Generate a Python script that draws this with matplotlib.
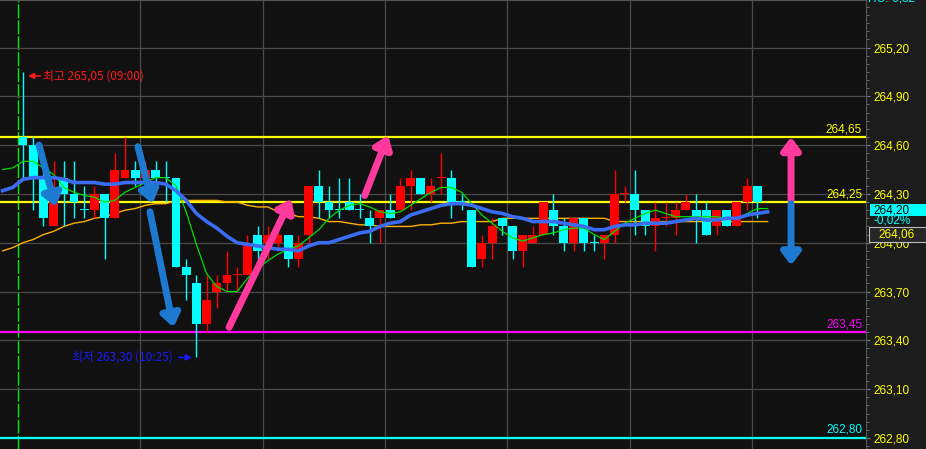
import numpy as np
import matplotlib
matplotlib.use('Agg')
import matplotlib.pyplot as plt
import matplotlib.transforms as mtransforms
from matplotlib.patches import Rectangle

# 5-min candles from 09:00 (index 0)
opens = [264.65, 264.60, 264.40, 264.10, 264.40, 264.30, 264.20, 264.20, 264.30, 264.15,
         264.40, 264.45, 264.40, 264.45, 264.40, 264.40, 263.85, 263.75, 263.50, 263.70,
         263.75, 263.80, 263.80, 264.05, 264.00, 264.00, 264.05, 263.90, 264.05, 264.35,
         264.25, 264.20, 264.25, 264.20, 264.15, 264.15, 264.20, 264.20, 264.35, 264.40,
         264.30, 264.40, 264.40, 264.25, 264.20, 263.90, 264.00, 264.15, 264.10, 263.95,
         264.00, 264.05, 264.20, 264.10, 264.00, 264.15, 264.00, 264.00, 264.05, 264.30,
         264.30, 264.20, 264.10, 264.15, 264.15, 264.20, 264.20, 264.20, 264.10, 264.20,
         264.10, 264.25, 264.35]
highs = [265.05, 264.65, 264.45, 264.50, 264.50, 264.50, 264.35, 264.35, 264.30, 264.55,
         264.65, 264.50, 264.50, 264.50, 264.50, 264.40, 263.90, 263.80, 263.80, 263.80,
         263.95, 263.85, 264.05, 264.10, 264.10, 264.10, 264.05, 264.05, 264.35, 264.45,
         264.35, 264.40, 264.40, 264.30, 264.20, 264.20, 264.30, 264.40, 264.45, 264.40,
         264.40, 264.55, 264.45, 264.30, 264.20, 264.05, 264.15, 264.15, 264.10, 264.05,
         264.10, 264.25, 264.30, 264.15, 264.15, 264.15, 264.05, 264.05, 264.45, 264.35,
         264.45, 264.20, 264.25, 264.25, 264.25, 264.30, 264.30, 264.25, 264.20, 264.20,
         264.25, 264.40, 264.35]
lows = [264.40, 264.20, 264.10, 264.10, 264.10, 264.15, 264.15, 264.15, 263.90, 264.15,
        264.40, 264.35, 264.40, 264.35, 264.25, 263.85, 263.65, 263.30, 263.45, 263.60,
        263.70, 263.70, 263.80, 263.90, 263.90, 263.95, 263.85, 263.85, 264.00, 264.15,
        264.15, 264.15, 264.20, 264.15, 264.00, 264.00, 264.15, 264.20, 264.20, 264.30,
        264.25, 264.30, 264.15, 264.20, 263.85, 263.85, 263.90, 264.05, 263.90, 263.85,
        264.00, 264.05, 264.05, 263.95, 263.95, 263.95, 263.95, 263.90, 264.00, 264.25,
        264.05, 264.05, 263.95, 264.10, 264.05, 264.20, 264.00, 264.05, 264.05, 264.10,
        264.10, 264.20, 264.15]
closes = [264.60, 264.40, 264.15, 264.30, 264.30, 264.25, 264.20, 264.30, 264.15, 264.45,
          264.45, 264.40, 264.45, 264.40, 264.40, 263.85, 263.80, 263.50, 263.65, 263.75,
          263.80, 263.80, 264.00, 263.95, 264.05, 264.05, 263.90, 264.00, 264.35, 264.25,
          264.20, 264.20, 264.20, 264.20, 264.10, 264.20, 264.15, 264.35, 264.40, 264.30,
          264.35, 264.40, 264.25, 264.25, 263.85, 264.00, 264.10, 264.10, 263.95, 264.05,
          264.05, 264.25, 264.10, 264.00, 264.15, 264.00, 264.00, 264.05, 264.30, 264.30,
          264.20, 264.10, 264.15, 264.15, 264.20, 264.25, 264.15, 264.05, 264.20, 264.10,
          264.25, 264.35, 264.25]
doji_red = [21, 41, 59, 63]

# moving averages, index -2 .. 73
ma_start = -2
ma_short = [264.45, 264.46, 264.50, 264.50, 264.46, 264.42, 264.34, 264.31, 264.29, 264.28,
            264.25, 264.26, 264.31, 264.34, 264.37, 264.40, 264.40, 264.35, 264.19, 263.99,
            263.81, 263.73, 263.70, 263.70, 263.78, 263.84, 263.89, 263.93, 263.96, 263.98,
            264.03, 264.08, 264.15, 264.20, 264.23, 264.24, 264.22, 264.19, 264.18, 264.19,
            264.23, 264.27, 264.31, 264.34, 264.34, 264.31, 264.24, 264.17, 264.12, 264.07,
            264.03, 264.01, 264.03, 264.05, 264.06, 264.08, 264.09, 264.09, 264.05, 264.02,
            264.07, 264.12, 264.15, 264.18, 264.20, 264.18, 264.16, 264.16, 264.16, 264.16,
            264.16, 264.15, 264.15, 264.18, 264.21, 264.21]
ma_mid = [264.32, 264.34, 264.39, 264.40, 264.40, 264.40, 264.39, 264.37, 264.37, 264.37,
          264.36, 264.36, 264.37, 264.37, 264.37, 264.37, 264.36, 264.32, 264.26, 264.18,
          264.13, 264.09, 264.04, 264.00, 263.99, 263.98, 263.97, 263.96, 263.96, 263.95,
          263.98, 264.00, 264.00, 264.02, 264.04, 264.06, 264.07, 264.10, 264.12, 264.13,
          264.17, 264.19, 264.21, 264.23, 264.24, 264.24, 264.23, 264.21, 264.19, 264.18,
          264.16, 264.15, 264.13, 264.13, 264.13, 264.12, 264.11, 264.10, 264.08, 264.08,
          264.10, 264.11, 264.11, 264.12, 264.12, 264.12, 264.13, 264.14, 264.15, 264.14,
          264.14, 264.15, 264.15, 264.17, 264.18, 264.19]
ma_long = [263.95, 263.97, 264.00, 264.02, 264.05, 264.07, 264.10, 264.12, 264.13, 264.15,
           264.16, 264.18, 264.20, 264.21, 264.23, 264.24, 264.24, 264.26, 264.26, 264.26,
           264.26, 264.26, 264.25, 264.25, 264.23, 264.22, 264.22, 264.19, 264.18, 264.16,
           264.16, 264.15, 264.13, 264.13, 264.12, 264.11, 264.11, 264.10, 264.10, 264.10,
           264.10, 264.11, 264.11, 264.12, 264.12, 264.13, 264.13, 264.13, 264.13, 264.15,
           264.15, 264.15, 264.15, 264.15, 264.15, 264.15, 264.15, 264.15, 264.15, 264.15,
           264.13, 264.13, 264.13, 264.13, 264.13, 264.13, 264.13, 264.13, 264.13, 264.13,
           264.13, 264.13, 264.13, 264.13, 264.13, 264.13]

# horizontal level lines
levels = [264.65, 264.25, 263.45, 262.80]
level_colors = ['#ffff00', '#ffff00', '#ff00ff', '#00ffff']

yticks = [262.80, 263.10, 263.40, 263.70, 264.00, 264.30, 264.60, 264.90, 265.20]
last_price = 264.20
change_pct = -0.02
ref_price = 264.06
top_text = 'HC:-0,32'

RED = '#ff0000'
CYAN = '#00ffff'
YEL = '#ffff00'
NUM_FONT = ['Liberation Sans', 'DejaVu Sans']
KR_FONT = ['Noto Sans CJK KR', 'DejaVu Sans']


def fmt(v):
    return f'{v:.2f}'.replace('.', ',')


W, H = 926, 449
fig = plt.figure(figsize=(W / 100, H / 100), dpi=100, facecolor='#1c1c1c')
ax = fig.add_axes([0, 0, 866 / W, 1])
ax.set_facecolor('#111111')
ax.set_xlim(-2.255, 82.65)
ax.set_ylim(262.732, 265.492)

# grid
ax.set_yticks(yticks)
ax.set_yticks(np.arange(262.75, 265.5, 0.05), minor=True)
ax.set_yticklabels([fmt(v) for v in yticks], fontfamily=NUM_FONT, fontsize=8.5)
ax.yaxis.tick_right()
ax.tick_params(axis='y', which='major', length=3, color='#777777', labelcolor=YEL, pad=2.5)
ax.tick_params(axis='y', which='minor', length=2.5, color='#777777')
ax.set_xticks([])
ax.grid(axis='y', color='#4a4a4a', lw=0.9, zorder=0)
for gx in np.arange(11.5, 80, 12):
    ax.axvline(gx, color='#4a4a4a', lw=0.9, zorder=0)
for side in ['left', 'bottom']:
    ax.spines[side].set_visible(False)
ax.spines['right'].set_color('#555555')
ax.spines['top'].set_color('#555555')

# day separator
ax.axvline(-0.5, color='#00ee00', lw=1, ls=(0, (10, 1.5)), zorder=1)

# level lines + labels
for lv, lc in zip(levels, level_colors):
    ax.axhline(lv, color=lc, lw=1.6, zorder=2)
    ax.text(0.9955, lv + 0.012, fmt(lv), transform=mtransforms.blended_transform_factory(ax.transAxes, ax.transData),
            ha='right', va='bottom', color=lc, fontsize=8.5, fontfamily=NUM_FONT, zorder=6)

# moving averages
xm = np.arange(ma_start, ma_start + len(ma_mid))
ax.plot(xm, ma_long, color='#ffb000', lw=1, zorder=3)
ax.plot(xm, ma_short, color='#00dd00', lw=0.9, zorder=5)
ax.plot(xm, ma_mid, color='#3a6cf4', lw=2.6, zorder=5)

# candles
o = np.array(opens)
c = np.array(closes)
hi = np.array(highs)
lo = np.array(lows)
x = np.arange(len(o))
up = (c > o) | np.isin(x, doji_red)
col = np.where(up, RED, CYAN)
ax.vlines(x, lo, hi, colors=col, lw=1, zorder=4)
body = np.abs(c - o)
ax.bar(x, np.where(body == 0, 0.006, body), bottom=np.minimum(o, c), width=0.88,
       color=col, lw=0, zorder=4)

# high / low labels
ih = int(np.argmax(hi))
ax.annotate(f'최고 {fmt(hi[ih])} (09:00)', xy=(ih + 0.5, hi[ih] - 0.025), xytext=(ih + 2.0, hi[ih] - 0.025),
            color='#ff1a1a', fontsize=8.5, fontfamily=KR_FONT, ha='left', va='center',
            arrowprops=dict(arrowstyle='-|>', color='#ff1a1a', lw=1, mutation_scale=9, shrinkA=0, shrinkB=0))
il = int(np.argmin(lo))
ax.annotate(f'최저 {fmt(lo[il])} (10:25)', xy=(il - 0.45, lo[il] - 0.005), xytext=(il - 2.3, lo[il] - 0.005),
            color='#1a1aff', fontsize=8.5, fontfamily=KR_FONT, ha='right', va='center',
            arrowprops=dict(arrowstyle='-|>', color='#1a1aff', lw=1, mutation_scale=9, shrinkA=2, shrinkB=0))

# drawn trend arrows
PINK = '#ff3a9c'
BLUE = '#1e7ad0'
arrows = [
    ((1.57, 264.60), (3.2, 264.22), BLUE),
    ((11.27, 264.59), (12.7, 264.24), BLUE),
    ((12.45, 264.19), (14.75, 263.48), BLUE),
    ((20.2, 263.48), (26.3, 264.27), PINK),
    ((33.5, 264.29), (35.8, 264.66), PINK),
    ((75.3, 264.26), (75.3, 264.65), PINK),
    ((75.3, 264.24), (75.3, 263.86), BLUE),
]
for (x0, y0), (x1, y1), ac in arrows:
    ax.annotate('', xy=(x1, y1), xytext=(x0, y0),
                arrowprops=dict(arrowstyle='-|>,head_length=0.6,head_width=0.45', color=ac, lw=5,
                                mutation_scale=12, shrinkA=0, shrinkB=0, capstyle='round'),
                zorder=7)

# right-side price tags
bt = mtransforms.blended_transform_factory(fig.transFigure, ax.transData)
fig.add_artist(Rectangle((870 / W, last_price - 0.037), 56 / W, 0.074, transform=bt,
                         facecolor=CYAN, edgecolor='none', zorder=5))
fig.text(873 / W, last_price, fmt(last_price), transform=bt, color='#000000', fontsize=8.5,
         fontfamily=NUM_FONT, va='center', ha='left', zorder=6)
fig.text(873 / W, last_price - 0.066, f'{change_pct:.2f}%'.replace('.', ','), transform=bt, color=CYAN,
         fontsize=8.5, fontfamily=NUM_FONT, va='center', ha='left', zorder=4)
fig.add_artist(Rectangle((869 / W, ref_price - 0.057), 57 / W, 0.092, transform=bt,
                         facecolor='#262626', edgecolor='#bbbbbb', lw=0.8, zorder=5))
fig.text(897 / W, ref_price - 0.011, fmt(ref_price), transform=bt, color=YEL, fontsize=8.5,
         fontfamily=NUM_FONT, va='center', ha='center', zorder=6)
fig.text(868 / W, 1.004, top_text, color=CYAN, fontsize=8.5, fontfamily=NUM_FONT, va='center', ha='left')

fig.savefig('out.png', dpi=100, facecolor=fig.get_facecolor())
